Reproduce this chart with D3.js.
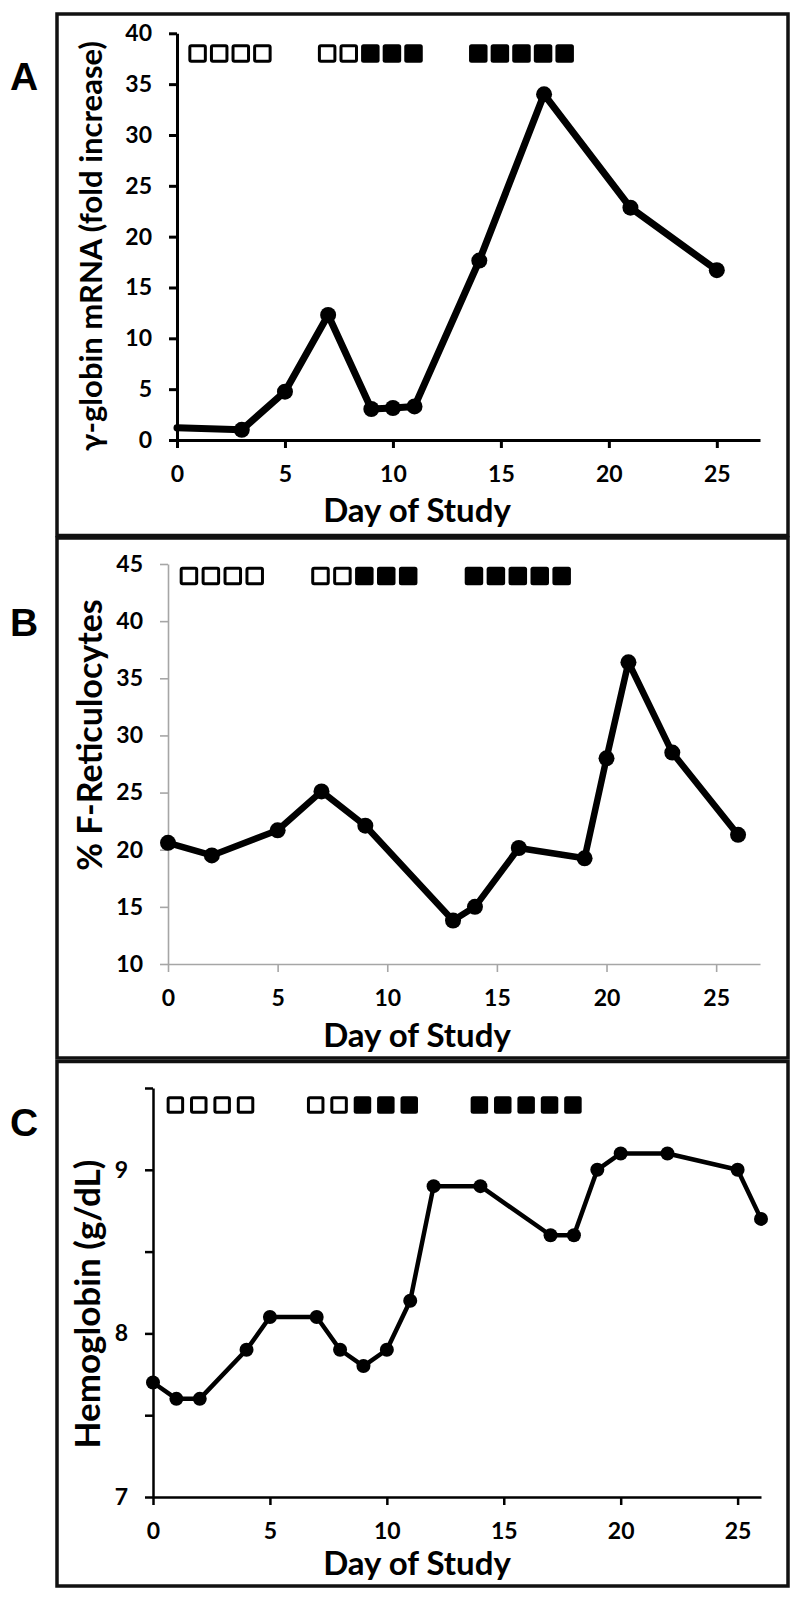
<!DOCTYPE html>
<html><head><meta charset="utf-8">
<script src="https://cdn.jsdelivr.net/npm/d3@7"></script>
<style>body{margin:0;background:#fff} svg{display:block}</style>
</head><body>
<svg id="c" width="800" height="1599"></svg>
<script>
// ---- data ----
const xTicks = [0,5,10,15,20,25];
const openDays = [1,2,3,4,7,8];
const filledDays = [9,10,11,14,15,16,17,18];

const daysA = [0,3,5,7,9,10,11,14,17,21,25];
const valsA = [1.2,1.0,4.75,12.3,3.05,3.15,3.3,17.65,34.0,22.85,16.7];
const yTicksA = [0,5,10,15,20,25,30,35,40];

const daysB = [0,2,5,7,9,13,14,16,19,20,21,23,26];
const valsB = [20.6,19.5,21.7,25.1,22.1,13.8,15.0,20.15,19.25,28.0,36.4,28.5,21.3];
const yTicksB = [10,15,20,25,30,35,40,45];

const daysC = [0,1,2,4,5,7,8,9,10,11,12,14,17,18,19,20,22,25,26];
const valsC = [7.7,7.6,7.6,7.9,8.1,8.1,7.9,7.8,7.9,8.2,8.9,8.9,8.6,8.6,9.0,9.1,9.1,9.0,8.7];
const yTicksC = [7,7.5,8,8.5,9,9.5];
const yLabelsC = [7,8,9];

// ---- layout ----
const svg = d3.select('#c');
const FONT = "Lato, 'Open Sans', sans-serif";

const panels = [
  {letter:'A', letterY:76, box:[57,14,731,521.5],
   days:daysA, vals:valsA, markFrom:1, yTicks:yTicksA, yLabels:yTicksA,
   xDom:[0,27], xRange:[177,760], yDom:[0,40], yRange:[440,33.3],
   axisColor:'#000', axisW:3, lineW:7, r:8,
   yTitle:'γ-globin mRNA (fold increase)', yTitleX:90, yTitleY:246, yTitleSize:31,
   xTitleY:522, sqY:53.5, sq:18.5},
  {letter:'B', letterY:622, box:[57,538,731,520],
   days:daysB, vals:valsB, markFrom:0, yTicks:yTicksB, yLabels:yTicksB,
   xDom:[0,27], xRange:[168,760], yDom:[10,45], yRange:[964,564],
   axisColor:'#a6a6a6', axisW:1.6, lineW:6.5, r:8,
   yTitle:'% F-Reticulocytes', yTitleX:88, yTitleY:735, yTitleSize:34,
   xTitleY:1047, sqY:576, sq:18.5},
  {letter:'C', letterY:1122, box:[57,1061.5,731,524.5],
   days:daysC, vals:valsC, markFrom:0, yTicks:yTicksC, yLabels:yLabelsC,
   xDom:[0,26], xRange:[153,761], yDom:[7,9.5], yRange:[1497,1088],
   axisColor:'#000', axisW:2.5, lineW:4.5, r:7,
   yTitle:'Hemoglobin (g/dL)', yTitleX:86, yTitleY:1304, yTitleSize:35,
   xTitleY:1575, sqY:1105, sq:17.5}
];

panels.forEach(p => {
  const g = svg.append('g');
  // frame
  g.append('rect').attr('x',p.box[0]).attr('y',p.box[1]).attr('width',p.box[2]).attr('height',p.box[3])
    .attr('fill','none').attr('stroke','#111').attr('stroke-width',3.5);
  // panel letter
  g.append('text').attr('x',24).attr('y',p.letterY).attr('text-anchor','middle')
    .attr('dominant-baseline','central')
    .style('font-family',"'Liberation Sans', Arial, sans-serif").style('font-weight','bold')
    .style('font-size','39px').text(p.letter);

  const x = d3.scaleLinear().domain(p.xDom).range(p.xRange);
  const y = d3.scaleLinear().domain(p.yDom).range(p.yRange);

  const xa = g.append('g').attr('transform',`translate(0,${p.yRange[0]})`)
    .call(d3.axisBottom(x).tickValues(xTicks).tickSize(8).tickSizeOuter(0).tickPadding(18));
  const ya = g.append('g').attr('transform',`translate(${p.xRange[0]},0)`)
    .call(d3.axisLeft(y).tickValues(p.yTicks).tickSize(8).tickSizeOuter(0).tickPadding(17)
      .tickFormat(v => p.yLabels.includes(v) ? d3.format('d')(v) : ''));
  [xa, ya].forEach(a => {
    a.select('.domain').attr('stroke',p.axisColor).attr('stroke-width',p.axisW);
    a.selectAll('.tick line').attr('stroke',p.axisColor).attr('stroke-width',p.axisW);
    a.selectAll('text').style('font-family',FONT).style('font-weight','bold')
      .style('font-size','23px').attr('fill','#000');
  });

  // titles
  g.append('text').attr('x',417).attr('y',p.xTitleY).attr('text-anchor','middle')
    .style('font-family',FONT).style('font-weight','bold').style('font-size','33px')
    .text('Day of Study');
  g.append('text').attr('transform',`translate(${p.yTitleX},${p.yTitleY}) rotate(-90)`)
    .attr('text-anchor','middle').attr('dominant-baseline','central')
    .style('font-family',FONT).style('font-weight','bold').style('font-size',p.yTitleSize+'px')
    .text(p.yTitle);

  // treatment squares
  const s = p.sq;
  g.selectAll('rect.open').data(openDays).enter().append('rect')
    .attr('x',d => x(d)-1-s/2+1.5).attr('y',p.sqY-s/2+1.5)
    .attr('width',s-3).attr('height',s-3).attr('rx',1.5)
    .attr('fill','#fff').attr('stroke','#000').attr('stroke-width',3);
  g.selectAll('rect.fill').data(filledDays).enter().append('rect')
    .attr('x',d => x(d)-1-s/2).attr('y',p.sqY-s/2)
    .attr('width',s).attr('height',s).attr('rx',2.5)
    .attr('fill','#000');

  // series
  const pts = p.days.map((d,i) => ({d, v:p.vals[i]}));
  g.append('path').datum(pts)
    .attr('d', d3.line().x(o => x(o.d)).y(o => y(o.v)))
    .attr('fill','none').attr('stroke','#000').attr('stroke-width',p.lineW)
    .attr('stroke-linejoin','round').attr('stroke-linecap','round');
  g.selectAll('circle').data(pts.slice(p.markFrom)).enter().append('circle')
    .attr('cx',o => x(o.d)).attr('cy',o => y(o.v)).attr('r',p.r).attr('fill','#000');
});
</script>
</body></html>
